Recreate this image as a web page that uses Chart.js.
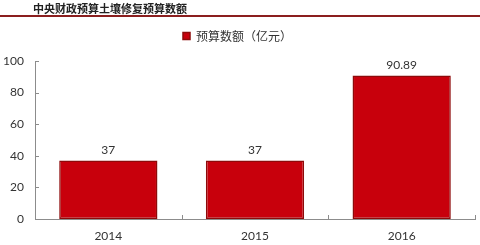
<!DOCTYPE html>
<html><head><meta charset="utf-8">
<script src="https://cdn.jsdelivr.net/npm/chart.js@4"></script>
<style>
html,body{margin:0;padding:0;background:#fff;}
#wrap{position:relative;width:480px;height:245px;}
#title{position:absolute;left:0;top:0;width:480px;height:15px;border-bottom:2px solid #8B1E1E;font:bold 11px "Noto Sans CJK SC",sans-serif;color:#222;line-height:16px;}
#title span{position:absolute;left:33px;top:0;letter-spacing:0px;}
canvas{position:absolute;left:0;top:0;}
</style></head>
<body>
<div id="wrap">
<canvas id="c" width="480" height="245"></canvas>
<div id="title"><span>中央财政预算土壤修复预算数额</span></div>
</div>
<script>
const categories = ["2014", "2015", "2016"];
const budget = [37, 37, 90.89];
const budgetLabels = ["37", "37", "90.89"];
const seriesName = "预算数额（亿元）";
const yTicks = [0, 20, 40, 60, 80, 100];

const legendGap = {
  id: 'legendGap',
  beforeInit(chart) {
    const lg = chart.legend;
    if (!lg) return;
    const fit = lg.fit;
    lg.fit = function () { fit.call(this); this.height += 9; };
  }
};

const innerTicks = {
  id: 'innerTicks',
  afterDraw(chart) {
    const ctx = chart.ctx;
    const x = chart.scales.x, y = chart.scales.y;
    ctx.save();
    ctx.strokeStyle = '#8c8c8c';
    ctx.lineWidth = 1;
    ctx.beginPath();
    yTicks.forEach(v => {
      const py = Math.round(y.getPixelForValue(v)) + 0.5;
      ctx.moveTo(x.left, py); ctx.lineTo(x.left + 4, py);
    });
    const n = categories.length;
    for (let i = 0; i <= n; i++) {
      const px = Math.round(x.left + i * (x.right - x.left) / n) + 0.5;
      ctx.moveTo(px, y.bottom); ctx.lineTo(px, y.bottom - 4);
    }
    ctx.stroke();
    ctx.fillStyle = '#333';
    ctx.font = '12px Lato, "Liberation Sans", sans-serif';
    ctx.textAlign = 'center';
    ctx.textBaseline = 'bottom';
    chart.getDatasetMeta(0).data.forEach((bar, i) => {
      ctx.fillText(budgetLabels[i], bar.x, bar.y - 4);
    });
    ctx.restore();
  }
};

new Chart(document.getElementById('c'), {
  type: 'bar',
  data: {
    labels: categories,
    datasets: [{
      label: seriesName,
      data: budget,
      backgroundColor: '#C8000C',
      borderColor: '#8E0A0A',
      borderWidth: 1.5,
      borderSkipped: false,
      barPercentage: 0.67,
      categoryPercentage: 1.0
    }]
  },
  options: {
    responsive: false,
    animation: false,
    layout: { padding: { top: 22, right: 5, left: 0, bottom: 0 } },
    plugins: {
      tooltip: { enabled: false },
      legend: {
        display: true,
        position: 'top',
        labels: {
          boxWidth: 7, boxHeight: 7,
          color: '#333',
          font: { size: 12, family: '"Noto Sans CJK SC", sans-serif' },
          padding: 8
        }
      }
    },
    scales: {
      x: {
        grid: { display: false, drawTicks: false },
        border: { display: true, color: '#8c8c8c', width: 1 },
        ticks: { color: '#333', padding: 10, font: { size: 12, family: 'Lato, "Liberation Sans", sans-serif' } },
        afterFit(s) { s.height = 26; }
      },
      y: {
        min: 0, max: 100,
        grid: { display: false, drawTicks: false },
        border: { display: true, color: '#8c8c8c', width: 1 },
        ticks: { stepSize: 20, color: '#333', padding: 11, font: { size: 12, family: 'Lato, "Liberation Sans", sans-serif' } },
        afterFit(s) { s.width = 35; }
      }
    }
  },
  plugins: [legendGap, innerTicks]
});
</script>
</body></html>
